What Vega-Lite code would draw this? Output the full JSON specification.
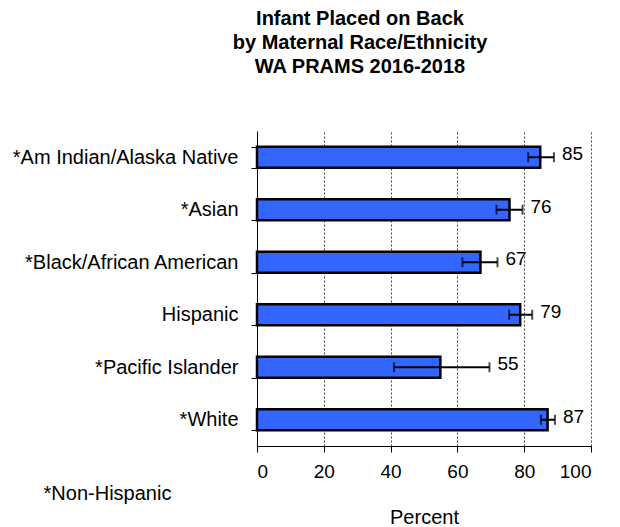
{
  "$schema": "https://vega.github.io/schema/vega-lite/v6.json",
  "autosize": {"type": "none"},
  "padding": {"left": 257, "top": 131, "right": 29, "bottom": 81},
  "width": 334,
  "height": 315,
  "background": "white",
  "config": {
    "font": "Liberation Sans",
    "view": {"stroke": null}
  },
  "title": {
    "text": ["Infant Placed on Back", "by Maternal Race/Ethnicity", "WA PRAMS 2016-2018"],
    "fontSize": 20,
    "fontWeight": "bold",
    "font": "Liberation Sans",
    "color": "black",
    "lineHeight": 24,
    "anchor": "middle",
    "frame": "group",
    "dx": -64,
    "offset": 44
  },
  "data": {
    "values": [
      {"group": "*Am Indian/Alaska Native", "pct": 84.8, "lower": 81.2, "upper": 88.9},
      {"group": "*Asian", "pct": 75.6, "lower": 71.7, "upper": 79.5},
      {"group": "*Black/African American", "pct": 66.9, "lower": 61.5, "upper": 72.0},
      {"group": "Hispanic", "pct": 78.8, "lower": 75.5, "upper": 82.4},
      {"group": "*Pacific Islander", "pct": 54.9, "lower": 41.0, "upper": 69.6},
      {"group": "*White", "pct": 87.0, "lower": 85.0, "upper": 89.2}
    ]
  },
  "encoding": {
    "y": {
      "field": "group",
      "type": "nominal",
      "sort": null,
      "scale": {"paddingInner": 0.6, "paddingOuter": 0.3},
      "axis": {
        "title": "*Non-Hispanic",
        "titleAngle": 0,
        "titleX": -150,
        "titleY": 362,
        "titleAlign": "center",
        "titleBaseline": "middle",
        "titleFontSize": 20,
        "titleFontWeight": "normal",
        "titleColor": "black",
        "labelFontSize": 20,
        "labelColor": "black",
        "labelPadding": 13,
        "labelLimit": 400,
        "tickBand": "extent",
        "tickSize": 6,
        "tickColor": "black",
        "domainColor": "black",
        "domainWidth": 1,
        "grid": false
      }
    }
  },
  "layer": [
    {
      "mark": {"type": "bar", "color": "#3366ff", "stroke": "black", "strokeWidth": 2.5},
      "encoding": {
        "x": {
          "field": "pct",
          "type": "quantitative",
          "scale": {"domain": [0, 100], "nice": false},
          "axis": {
            "title": "Percent",
            "titleFontSize": 20,
            "titleFontWeight": "normal",
            "titleColor": "black",
            "titleY": 71,
            "titleBaseline": "middle",
            "values": [0, 20, 40, 60, 80, 100],
            "labelFontSize": 19,
            "labelColor": "black",
            "labelPadding": 10,
            "tickSize": 6,
            "tickColor": "black",
            "domainColor": "black",
            "grid": true,
            "gridColor": "#444444",
            "gridDash": [2, 2],
            "gridWidth": 1,
            "gridOpacity": {"condition": {"test": "datum.value === 0", "value": 0}, "value": 1}
          }
        }
      }
    },
    {
      "mark": {"type": "rule", "color": "black", "strokeWidth": 2},
      "encoding": {
        "x": {"field": "lower", "type": "quantitative"},
        "x2": {"field": "upper"}
      }
    },
    {
      "mark": {"type": "tick", "color": "black", "size": 10, "thickness": 2, "orient": "vertical"},
      "encoding": {"x": {"field": "lower", "type": "quantitative"}}
    },
    {
      "mark": {"type": "tick", "color": "black", "size": 10, "thickness": 2, "orient": "vertical"},
      "encoding": {"x": {"field": "upper", "type": "quantitative"}}
    },
    {
      "mark": {"type": "text", "align": "left", "baseline": "middle", "dx": 8, "dy": -3, "fontSize": 19, "color": "black"},
      "encoding": {
        "x": {"field": "upper", "type": "quantitative"},
        "text": {"field": "pct", "type": "quantitative", "format": ".0f"}
      }
    }
  ]
}
